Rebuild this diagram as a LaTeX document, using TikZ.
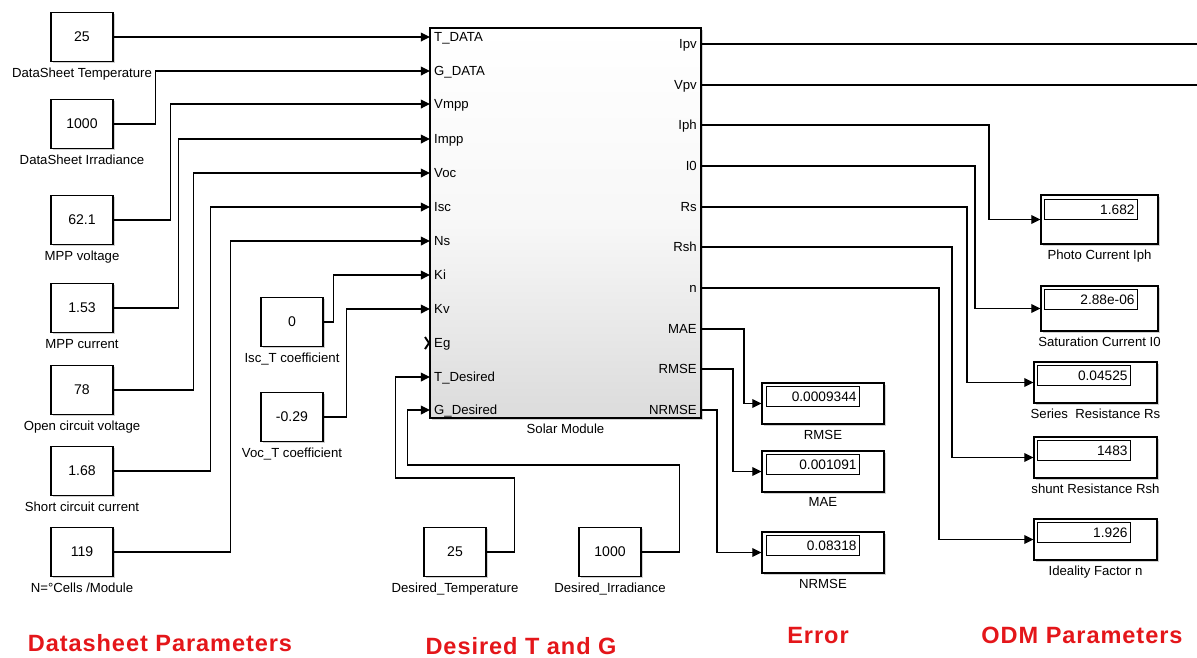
\documentclass[tikz,border=0pt]{standalone}
\usepackage{fontspec}
\setmainfont{Liberation Sans}
\usetikzlibrary{positioning,arrows.meta,shadows}
\definecolor{grpred}{RGB}{228,22,26}
\tikzset{
  boxshadow/.style={drop shadow={shadow xshift=1pt, shadow yshift=-1pt, fill=black, opacity=0.18}},
  const/.style={draw, fill=white, line width=0.7pt, boxshadow, minimum width=1.24cm, minimum height=0.98cm, inner sep=1pt, font=\fontsize{8}{9}\selectfont},
  disp/.style={draw, fill=white, line width=0.7pt, boxshadow, minimum width=2.44cm, minimum height=0.82cm, inner sep=0pt},
  field/.style={draw, line width=0.6pt, minimum height=0.4cm, inner xsep=1.5pt, inner ysep=0pt, text width=49.5pt, align=right, font=\fontsize{7.8}{9}\selectfont},
  block/.style={draw, line width=0.7pt, boxshadow, minimum width=5.42cm, minimum height=7.8cm, top color=white, bottom color=gray!28, middle color=gray!6}
}

\begin{document}
\begin{tikzpicture}[
    x=0.02cm, y=-0.02cm,
    line/.style={draw, line width=0.7pt},
    arrow/.style={line, -{Triangle[length=5.2pt, width=5pt]}},
    port/.style={inner sep=0.5pt, text height=5.4pt, text depth=0pt, font=\fontsize{7.5}{9}\selectfont},
    lbl/.style={inner sep=0.5pt, font=\fontsize{7.5}{9}\selectfont},
    group/.style={text=grpred, inner sep=0pt, font=\fontsize{13.4}{16}\selectfont\bfseries\addfontfeature{LetterSpace=4}}
]
\useasboundingbox (0,0) rectangle (1197,657);
% Solar Module block
\node[block] (sm) at (565.5,223) {};
\node[lbl, below=0.08cm of sm] (smlabel) {Solar Module};
% Input ports
\coordinate (iTD) at (430,37);   \node[port, anchor=west] (lTD) at (433,37) {T\_DATA};
\coordinate (iGD) at (430,71);   \node[port, anchor=west] (lGD) at (433,71) {G\_DATA};
\coordinate (iVmpp) at (430,104); \node[port, anchor=west] (lVmpp) at (433,104) {Vmpp};
\coordinate (iImpp) at (430,139); \node[port, anchor=west] (lImpp) at (433,139) {Impp};
\coordinate (iVoc) at (430,173);  \node[port, anchor=west] (lVoc) at (433,173) {Voc};
\coordinate (iIsc) at (430,207);  \node[port, anchor=west] (lIsc) at (433,207) {Isc};
\coordinate (iNs) at (430,241);   \node[port, anchor=west] (lNs) at (433,241) {Ns};
\coordinate (iKi) at (430,275);   \node[port, anchor=west] (lKi) at (433,275) {Ki};
\coordinate (iKv) at (430,309);   \node[port, anchor=west] (lKv) at (433,309) {Kv};
\coordinate (iEg) at (430,343);   \node[port, anchor=west] (lEg) at (433,343) {Eg};
\coordinate (iTd) at (430,377);   \node[port, anchor=west] (lTd) at (433,377) {T\_Desired};
\coordinate (iGd) at (430,410);   \node[port, anchor=west] (lGd) at (433,410) {G\_Desired};
% Output ports
\coordinate (oIpv) at (701,44);   \node[port, anchor=east] (lIpv) at (698,44) {Ipv};
\coordinate (oVpv) at (701,85);   \node[port, anchor=east] (lVpv) at (698,85) {Vpv};
\coordinate (oIph) at (701,125);  \node[port, anchor=east] (lIph) at (698,125) {Iph};
\coordinate (oI0) at (701,166);   \node[port, anchor=east] (lI0) at (698,166) {I0};
\coordinate (oRs) at (701,207);   \node[port, anchor=east] (lRs) at (698,207) {Rs};
\coordinate (oRsh) at (701,247);  \node[port, anchor=east] (lRsh) at (698,247) {Rsh};
\coordinate (on) at (701,288);    \node[port, anchor=east] (ln) at (698,288) {n};
\coordinate (oMAE) at (701,329);  \node[port, anchor=east] (lMAE) at (698,329) {MAE};
\coordinate (oRMSE) at (701,369); \node[port, anchor=east] (lRMSE) at (698,369) {RMSE};
\coordinate (oNRMSE) at (701,410); \node[port, anchor=east] (lNRMSE) at (698,410) {NRMSE};
% Datasheet constants
\node[const] (cT) at (82,37) {25};
\node[lbl, below=0.1cm of cT] (cTl) {DataSheet Temperature};
\node[const] (cG) at (82,124) {1000};
\node[lbl, below=0.1cm of cG] (cGl) {DataSheet Irradiance};
\node[const] (cV) at (82,220) {62.1};
\node[lbl, below=0.1cm of cV] (cVl) {MPP voltage};
\node[const] (cI) at (82,308) {1.53};
\node[lbl, below=0.1cm of cI] (cIl) {MPP current};
\node[const] (cVoc) at (82,390) {78};
\node[lbl, below=0.1cm of cVoc] (cVocl) {Open circuit voltage};
\node[const] (cIsc) at (82,471) {1.68};
\node[lbl, below=0.1cm of cIsc] (cIscl) {Short circuit current};
\node[const] (cNs) at (82,552) {119};
\node[lbl, below=0.1cm of cNs] (cNsl) {N=°Cells /Module};
% Temperature coefficients
\node[const] (cKi) at (292,322) {0};
\node[lbl, below=0.1cm of cKi] (cKil) {Isc\_T coefficient};
\node[const] (cKv) at (292,417) {-0.29};
\node[lbl, below=0.1cm of cKv] (cKvl) {Voc\_T coefficient};
% Desired conditions
\node[const] (cTd) at (455,552) {25};
\node[lbl, below=0.1cm of cTd] (cTdl) {Desired\_Temperature};
\node[const] (cGd) at (610,552) {1000};
\node[lbl, below=0.1cm of cGd] (cGdl) {Desired\_Irradiance};
% Error displays
\node[disp] (dRMSE) at (823,403.5) {};
\node[field, anchor=north west] (fRMSE) at ([shift={(5,4)}]dRMSE.north west) {0.0009344};
\node[lbl, below=0.08cm of dRMSE] (dRMSEl) {RMSE};
\node[disp] (dMAE) at (823,471.5) {};
\node[field, anchor=north west] (fMAE) at ([shift={(5,4)}]dMAE.north west) {0.001091};
\node[lbl, below=0.08cm of dMAE] (dMAEl) {MAE};
\node[disp] (dNRMSE) at (823,552.5) {};
\node[field, anchor=north west] (fNRMSE) at ([shift={(5,4)}]dNRMSE.north west) {0.08318};
\node[lbl, below=0.08cm of dNRMSE] (dNRMSEl) {NRMSE};
% ODM parameter displays
\node[disp, minimum width=2.34cm, minimum height=0.98cm] (dIph) at (1099.5,219.5) {};
\node[field, anchor=north west] (fIph) at ([shift={(4,5)}]dIph.north west) {1.682};
\node[lbl, below=0.08cm of dIph] (dIphl) {Photo Current Iph};
\node[disp, minimum width=2.34cm, minimum height=0.9cm] (dI0) at (1099.5,308.5) {};
\node[field, anchor=north west] (fI0) at ([shift={(4,4)}]dI0.north west) {2.88e-06};
\node[lbl, below=0.08cm of dI0] (dI0l) {Saturation Current I0};
\node[disp, minimum width=2.46cm] (dRs) at (1095.5,382.5) {};
\node[field, anchor=north west] (fRs) at ([shift={(4,4)}]dRs.north west) {0.04525};
\node[lbl, below=0.08cm of dRs] (dRsl) {Series\ \ Resistance Rs};
\node[disp, minimum width=2.46cm] (dRsh) at (1095.5,457.5) {};
\node[field, anchor=north west] (fRsh) at ([shift={(4,4)}]dRsh.north west) {1483};
\node[lbl, below=0.08cm of dRsh] (dRshl) {shunt Resistance Rsh};
\node[disp, minimum width=2.46cm] (dn) at (1095.5,539.5) {};
\node[field, anchor=north west] (fn) at ([shift={(4,4)}]dn.north west) {1.926};
\node[lbl, below=0.08cm of dn] (dnl) {Ideality Factor n};
% Group titles
\node[group] (gData) at (160,643) {Datasheet Parameters};
\node[group] (gDes) at (521,646) {Desired T and G};
\node[group] (gErr) at (818,636) {Error};
\node[group] (gOdm) at (1082,635) {ODM Parameters};
% Datasheet wiring
\draw[arrow] (cT.east) -- (iTD);
\draw[arrow] (cG.east) -- ++(42,0) |- (iGD);
\draw[arrow] (cV.east) -- ++(57,0) |- (iVmpp);
\draw[arrow] (cI.east) -- ++(65,0) |- (iImpp);
\draw[arrow] (cVoc.east) -- ++(80,0) |- (iVoc);
\draw[arrow] (cIsc.east) -- ++(97,0) |- (iIsc);
\draw[arrow] (cNs.east) -- ++(117,0) |- (iNs);
\draw[arrow] (cKi.east) -- ++(10,0) |- (iKi);
\draw[arrow] (cKv.east) -- ++(23,0) |- (iKv);
% Unconnected Eg port
\draw[line width=1.1pt] ([shift={(-5,-6)}]iEg) -- ([shift={(-1,0)}]iEg) -- ([shift={(-5,6)}]iEg);
% Desired wiring
\draw[arrow] (cTd.east) -- ++(28,0) -- ++(0,-74) -- ++(-119,0) |- (iTd);
\draw[arrow] (cGd.east) -- ++(38,0) -- ++(0,-87) -- ++(-272,0) |- (iGd);
% Outputs
\coordinate (eIpv) at (1197,44);
\coordinate (eVpv) at (1197,85);
\draw[line] (oIpv) -- (eIpv);
\draw[line] (oVpv) -- (eVpv);
\draw[arrow] (oIph) -- ++(288,0) |- (dIph.west);
\draw[arrow] (oI0) -- ++(274,0) |- (dI0.west);
\draw[arrow] (oRs) -- ++(266,0) |- (dRs.west);
\draw[arrow] (oRsh) -- ++(251,0) |- (dRsh.west);
\draw[arrow] (on) -- ++(238,0) |- (dn.west);
\draw[arrow] (oMAE) -- ++(43,0) |- (dRMSE.west);
\draw[arrow] (oRMSE) -- ++(32,0) |- (dMAE.west);
\draw[arrow] (oNRMSE) -- ++(16,0) |- (dNRMSE.west);
\end{tikzpicture}
\end{document}
